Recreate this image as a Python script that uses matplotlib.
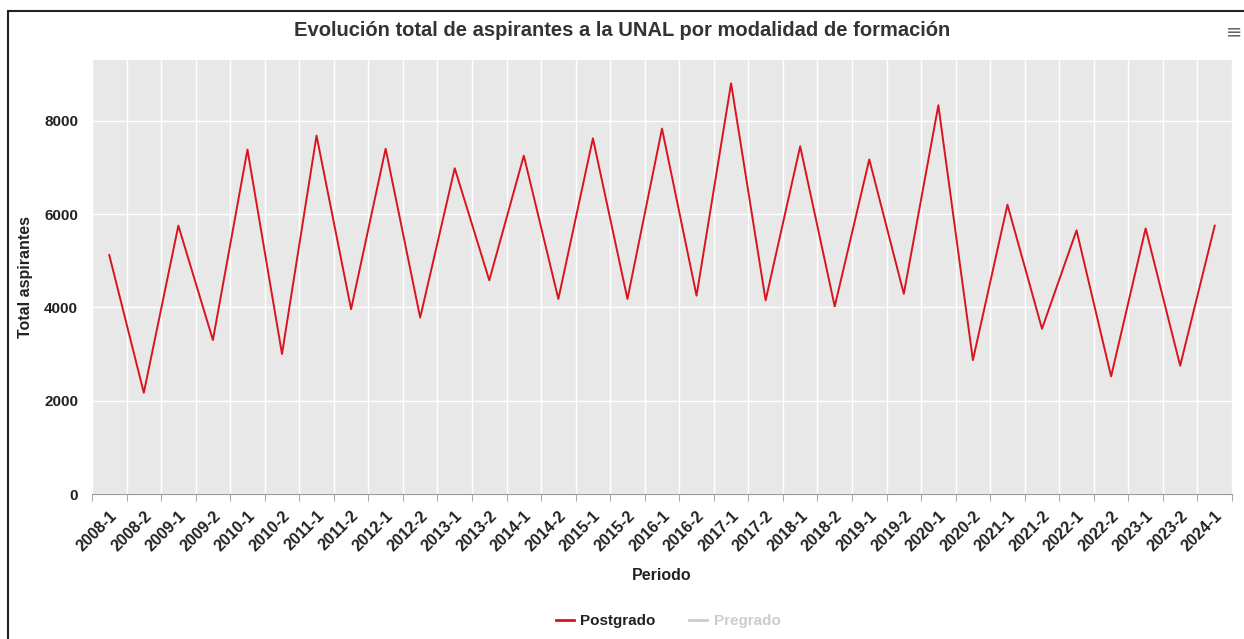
import matplotlib
matplotlib.use('Agg')
from matplotlib import pyplot as plt
from matplotlib.patches import Rectangle
from matplotlib.lines import Line2D
import numpy as np

plt.rcParams['font.family'] = ['Liberation Sans', 'DejaVu Sans']

# Data
periodos = ['2008-1', '2008-2', '2009-1', '2009-2', '2010-1', '2010-2', '2011-1', '2011-2',
            '2012-1', '2012-2', '2013-1', '2013-2', '2014-1', '2014-2', '2015-1', '2015-2',
            '2016-1', '2016-2', '2017-1', '2017-2', '2018-1', '2018-2', '2019-1', '2019-2',
            '2020-1', '2020-2', '2021-1', '2021-2', '2022-1', '2022-2', '2023-1', '2023-2',
            '2024-1']
postgrado = [5120, 2170, 5750, 3300, 7380, 3000, 7680, 3960,
             7400, 3780, 6980, 4580, 7250, 4180, 7620, 4180,
             7830, 4250, 8800, 4150, 7450, 4020, 7170, 4290,
             8330, 2870, 6200, 3540, 5650, 2520, 5690, 2750,
             5750]
y_ticks = [0, 2000, 4000, 6000, 8000]

fig = plt.figure(figsize=(12.44, 6.39), dpi=100)
ax = fig.add_axes([92 / 1244, 1 - 494 / 639, 1140 / 1244, 434 / 639])

x = np.arange(len(periodos))
ax.plot(x, postgrado, color='#d9141f', lw=1.4, zorder=3)

ax.set_facecolor('#e8e8e8')
ax.set_xlim(-0.5, len(periodos) - 0.5)
ax.set_ylim(0, 9300)

# ticks / grid
ax.set_xticks(x)
ax.set_xticklabels(periodos, rotation=45, ha='right', rotation_mode='anchor',
                   fontsize=11.5, fontweight='bold', color='#222222')
ax.set_xticks(np.arange(len(periodos) + 1) - 0.5, minor=True)
ax.tick_params(axis='x', which='major', length=0, pad=10)
ax.tick_params(axis='x', which='minor', length=5, color='#999999')
ax.set_yticks(y_ticks)
ax.set_yticklabels([str(v) for v in y_ticks], fontsize=11, fontweight='bold', color='#222222')
ax.tick_params(axis='y', length=0, pad=10)
ax.grid(True, axis='x', which='minor', color='white', lw=1)
ax.grid(True, axis='y', which='major', color='white', lw=1)
ax.set_axisbelow(True)

for s in ['top', 'right', 'left']:
    ax.spines[s].set_visible(False)
ax.spines['bottom'].set_color('#999999')

ax.set_xlabel('Periodo', fontsize=11.5, fontweight='bold', color='#222222', labelpad=10)
ax.set_ylabel('Total aspirantes', fontsize=11.5, fontweight='bold', color='#222222', labelpad=8)

fig.text(0.5, 1 - 31 / 639, 'Evolución total de aspirantes a la UNAL por modalidad de formación',
         ha='center', va='center', fontsize=14.5, fontweight='bold', color='#333333')
fig.text(1234 / 1244, 1 - 32 / 639, '≡', ha='center', va='center', fontsize=14, color='#666666',
         family=['DejaVu Sans'])

# legend at bottom
handles = [Line2D([], [], color='#d9141f', lw=2), Line2D([], [], color='#cccccc', lw=2)]
leg = fig.legend(handles, ['Postgrado', 'Pregrado'], loc='center', bbox_to_anchor=(0.537, 1 - 621 / 639),
                 ncol=2, frameon=False, handlelength=1.2, handletextpad=0.4, columnspacing=2.2,
                 prop={'weight': 'bold', 'size': 11})
leg.get_texts()[0].set_color('#222222')
leg.get_texts()[1].set_color('#cccccc')

# outer frame
fig.patches.append(Rectangle((8 / 1244, -0.1), 1.2, 1 - 11 / 639 + 0.1, transform=fig.transFigure,
                             fill=False, edgecolor='#222222', lw=1.5))

fig.savefig('out.png', dpi=100)
